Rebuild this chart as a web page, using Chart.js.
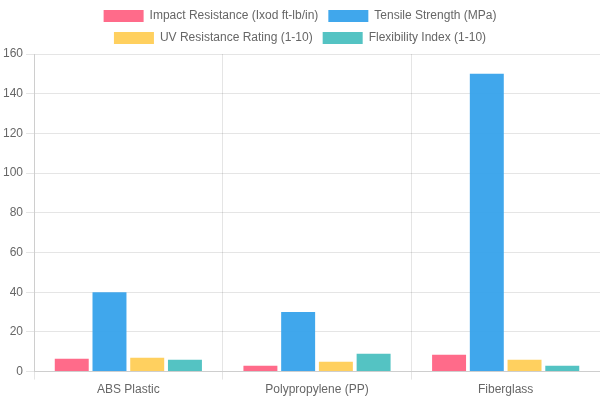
<!DOCTYPE html>
<html>
<head>
<meta charset="utf-8">
<script src="https://cdn.jsdelivr.net/npm/chart.js@4/dist/chart.umd.min.js"></script>
<style>
  html, body { margin: 0; padding: 0; background: #fff; }
  #wrap { width: 600px; height: 400px; }
</style>
</head>
<body>
<div id="wrap"><canvas id="myChart"></canvas></div>
<script>
const materials = ['ABS Plastic', 'Polypropylene (PP)', 'Fiberglass']
const impactResistance = [6.5, 3, 8.5]
const tensileStrength = [40, 30, 150]
const uvRating = [7, 5, 6]
const flexibilityIndex = [6, 9, 3]

const ctx = document.getElementById('myChart').getContext('2d')
const myChart = new Chart(ctx, {
  type: 'bar',
  data: {
    labels: materials,
    datasets: [
      {
        label: 'Impact Resistance (Ixod ft-lb/in)',
        data: impactResistance,
        backgroundColor: 'rgba(255, 99, 132, 0.95)',
        borderColor: 'rgba(255, 99, 132, 1)',
        borderWidth: 0,
      },
      {
        label: 'Tensile Strength (MPa)',
        data: tensileStrength,
        backgroundColor: 'rgba(54, 162, 235, 0.95)',
        borderColor: 'rgba(54, 162, 235, 1)',
        borderWidth: 0,
      },
      {
        label: 'UV Resistance Rating (1-10)',
        data: uvRating,
        backgroundColor: 'rgba(255, 205, 86, 0.95)',
        borderColor: 'rgba(255, 205, 86, 1)',
        borderWidth: 0,
      },
      {
        label: 'Flexibility Index (1-10)',
        data: flexibilityIndex,
        backgroundColor: 'rgba(75, 192, 192, 0.95)',
        borderColor: 'rgba(75, 192, 192, 1)',
        borderWidth: 0,
      },
    ],
  },
  options: {
    responsive: true,
    maintainAspectRatio: false,
    animation: false,
    plugins: {
      legend: { position: 'top' },
    },
    scales: {
      y: {
        beginAtZero: true,
        max: 160,
        ticks: { stepSize: 20 },
      },
    },
  },
})
</script>
</body>
</html>
